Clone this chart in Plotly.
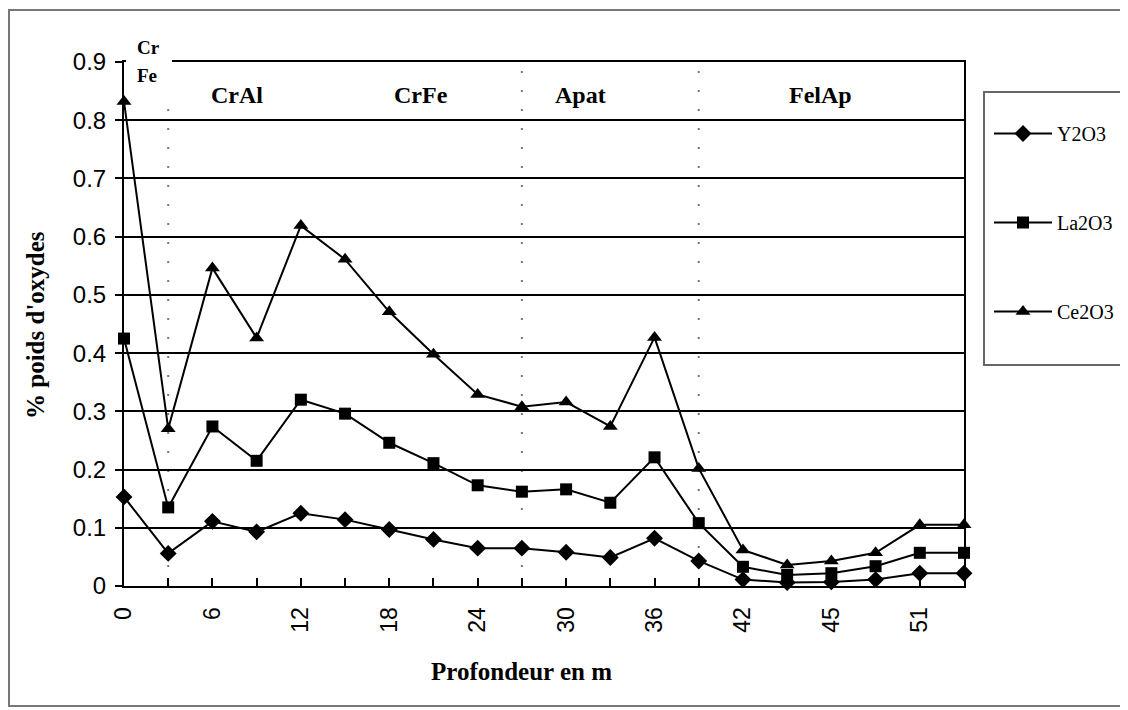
import plotly.graph_objects as go

# profondeur (m) - une etiquette sur deux est affichee
depths = ["0", "3", "6", "9", "12", "15", "18", "21", "24", "27",
          "30", "33", "36", "39", "42", "43", "45", "48", "51", "54"]
shown = ["0", "6", "12", "18", "24", "30", "36", "42", "45", "51"]

y2o3 = [0.153, 0.056, 0.111, 0.093, 0.125, 0.114, 0.097, 0.080, 0.065, 0.065,
        0.058, 0.049, 0.082, 0.043, 0.011, 0.006, 0.007, 0.011, 0.022, 0.022]
la2o3 = [0.425, 0.135, 0.274, 0.215, 0.320, 0.296, 0.246, 0.211, 0.173, 0.162,
         0.166, 0.143, 0.221, 0.108, 0.033, 0.019, 0.022, 0.034, 0.057, 0.057]
ce2o3 = [0.832, 0.270, 0.546, 0.426, 0.619, 0.561, 0.471, 0.398, 0.329, 0.308,
         0.316, 0.274, 0.427, 0.202, 0.062, 0.036, 0.043, 0.057, 0.105, 0.105]

zones = ["CrAl", "CrFe", "Apat", "FelAp"]
zone_x = [237, 421, 580, 820]          # centres en pixels
limits = ["3", "27", "39"]              # lignes pointillees
limit_top = [0.826, 0.895, 0.895]

# la page ajoute 8px de marge autour de la figure
OFF = 8
W, H = 1128 - OFF, 710 - OFF
L, R, T, B = 124, 964, 62, 586        # zone de trace dans l'image de reference


def px(x):
    return (x - L) / (R - L)


def py(y):
    return (B - y) / (B - T)


serif = "Liberation Serif"
sans = "Liberation Sans"

fig = go.Figure()
for name, vals, sym, size, grp in [("Y2O3", y2o3, "diamond", 13, "a"),
                                   ("La2O3", la2o3, "square", 12, "b"),
                                   ("Ce2O3", ce2o3, "triangle-up", 13, "c")]:
    fig.add_trace(go.Scatter(x=depths, y=vals, name=name, mode="lines+markers",
                             legendgroup=grp, cliponaxis=False,
                             line=dict(color="black", width=2),
                             marker=dict(symbol=sym, size=size, color="black")))

shapes = []
for lim, top in zip(limits, limit_top):
    i = depths.index(lim)
    shapes.append(dict(type="line", xref="x", yref="y", x0=i, x1=i, y0=0, y1=top,
                       line=dict(color="#777777", width=2, dash="2px,17px"), layer="below"))
# masque blanc sous "Cr Fe"
shapes.append(dict(type="rect", xref="paper", yref="paper", x0=px(126), x1=px(172),
                   y0=py(68), y1=py(56), fillcolor="white", line=dict(width=0), layer="above"))
# cadre du graphique
shapes.append(dict(type="rect", xref="paper", yref="paper", x0=px(9), x1=px(1127),
                   y0=py(706), y1=py(10), line=dict(color="#777777", width=2)))
# cadre de la legende
shapes.append(dict(type="rect", xref="paper", yref="paper", x0=px(984), x1=px(1127),
                   y0=py(365), y1=py(92), line=dict(color="#666666", width=2)))


def label(text, x, y, size, xanchor="center", angle=0):
    return dict(text=text, x=px(x), y=py(y), xref="paper", yref="paper",
                xanchor=xanchor, yanchor="middle", textangle=angle, showarrow=False,
                font=dict(family=serif, size=size, color="black"))


annotations = [label("<b>%s</b>" % z, zx, 95, 24) for z, zx in zip(zones, zone_x)]
annotations.append(label("<b>Cr</b>", 135, 48, 19, "left"))
annotations.append(label("<b>Fe</b>", 135, 75, 19, "left"))
annotations.append(label("<b>Profondeur en m</b>", 521, 671, 25))
annotations.append(label("<b>% poids d'oxydes</b>", 35, 325, 25, angle=-90))

fig.update_layout(
    width=W, height=H,
    margin=dict(l=L - OFF, r=W - (R - OFF), t=T - OFF, b=H - (B - OFF), autoexpand=False),
    paper_bgcolor="white", plot_bgcolor="white",
    shapes=shapes, annotations=annotations,
    legend=dict(x=px(989), y=py(114), xanchor="left", yanchor="top",
                font=dict(family=serif, size=20, color="black"),
                bgcolor="rgba(0,0,0,0)", itemwidth=58, tracegroupgap=60),
    xaxis=dict(type="category", range=[0, len(depths) - 1],
               tickmode="array", tickvals=depths,
               ticktext=[d if d in shown else "" for d in depths],
               tickangle=-90, ticks="inside", ticklen=8, tickwidth=1.5, tickcolor="black",
               showline=True, linecolor="black", linewidth=2, mirror=True,
               showgrid=False, ticklabelstandoff=10,
               tickfont=dict(family=sans, size=23, color="black")),
    yaxis=dict(range=[0, 0.9], dtick=0.1, tick0=0,
               ticks="outside", ticklen=7, tickwidth=1.5, tickcolor="black",
               showline=True, linecolor="black", linewidth=2, mirror=True,
               showgrid=True, gridcolor="black", gridwidth=1.5, zeroline=False,
               ticklabelstandoff=4,
               tickfont=dict(family=sans, size=24, color="black")),
)

fig.write_html("out.html")
